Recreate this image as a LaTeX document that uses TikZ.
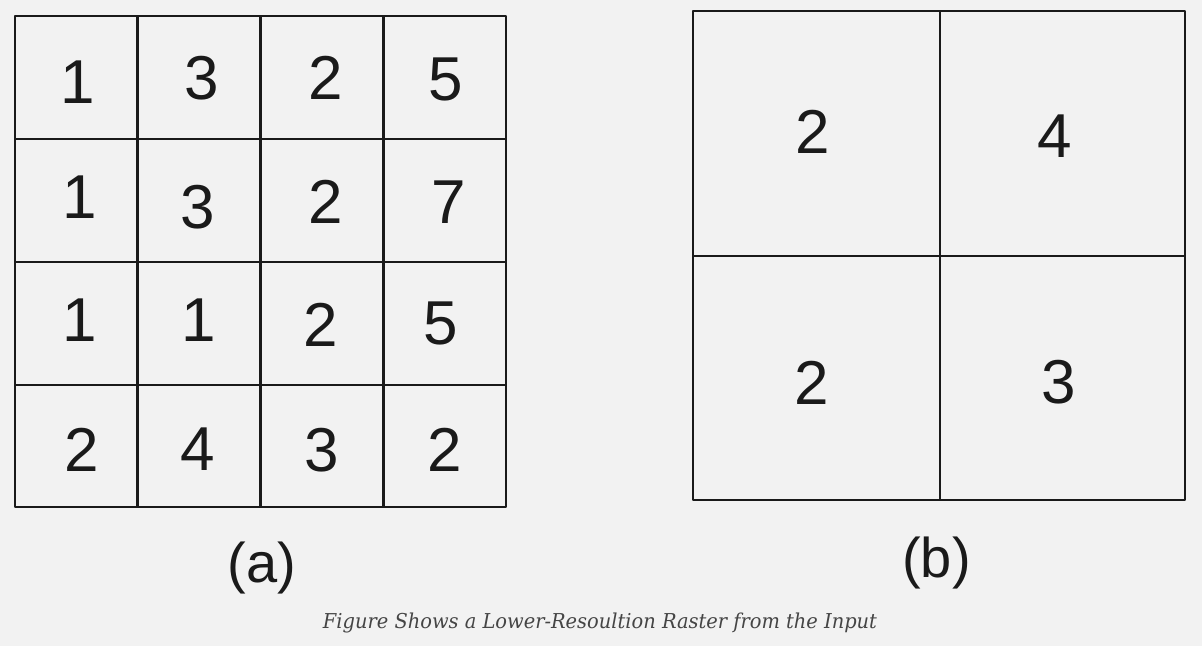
\documentclass[tikz,border=0pt]{standalone}
\usepackage{fontspec}
\setmainfont{Liberation Sans}
\newfontfamily\capfont{DejaVu Serif}
\definecolor{bg}{HTML}{F2F2F2}
\definecolor{ink}{HTML}{1A1A1A}
\definecolor{capgray}{HTML}{454545}
\begin{document}
\begin{tikzpicture}[x=1pt,y=-1pt,
  gridline/.style={draw=ink,line width=2.5pt,line join=round},
  digit/.style={inner sep=0pt,text=ink,font=\fontsize{62}{62}\selectfont},
  sublabel/.style={inner sep=0pt,text=ink,font=\fontsize{56}{56}\selectfont},
  captext/.style={inner sep=0pt,text=capgray,anchor=base}]
\fill[bg] (0,0) rectangle (1202,646);
\useasboundingbox (0,0) rectangle (1202,646);
% grid (a)
\draw[gridline] (15,16) rectangle (506,507);
\draw[gridline] (137.5,16) -- (137.5,507) (260.5,16) -- (260.5,507) (383.5,16) -- (383.5,507);
\draw[gridline] (15,139) -- (506,139) (15,262) -- (506,262) (15,385) -- (506,385);
% grid (b)
\draw[gridline] (693,11) rectangle (1185,500);
\draw[gridline] (940,11) -- (940,500);
\draw[gridline] (693,256) -- (1185,256);
% digits (a)
\node[digit] (a11) at (78,82) {1};
\node[digit] (a12) at (202,78.5) {3};
\node[digit] (a13) at (325.5,78) {2};
\node[digit] (a14) at (445.5,79) {5};
\node[digit] (a21) at (79.5,197.5) {1};
\node[digit] (a22) at (198,207) {3};
\node[digit] (a23) at (325.5,201.5) {2};
\node[digit] (a24) at (449,202) {7};
\node[digit] (a31) at (79.5,320.5) {1};
\node[digit] (a32) at (199,320.5) {1};
\node[digit] (a33) at (320.5,325) {2};
\node[digit] (a34) at (441,323) {5};
\node[digit] (a41) at (82,449.5) {2};
\node[digit] (a42) at (197.5,449.5) {4};
\node[digit] (a43) at (321.5,450) {3};
\node[digit] (a44) at (445,449.5) {2};
% digits (b)
\node[digit] (b11) at (812.5,132) {2};
\node[digit] (b12) at (1054.5,136.5) {4};
\node[digit] (b21) at (812,383) {2};
\node[digit] (b22) at (1059,382) {3};
% labels
\node[sublabel] (la) at (262,568) {(a)};
\node[sublabel] (lb) at (936.5,562.5) {(b)};
\node[captext] (cap) at (600,628) {\resizebox{554pt}{\height}{\capfont\itshape\fontsize{20.5}{20.5}\selectfont Figure Shows a Lower-Resoultion Raster from the Input}};
\end{tikzpicture}
\end{document}
